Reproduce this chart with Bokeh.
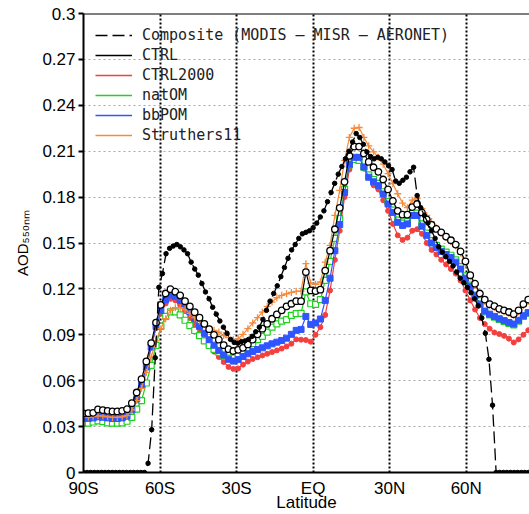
import numpy as np
from bokeh.plotting import figure
from bokeh.models import Range1d, FixedTicker, Legend, LegendItem, Span
from bokeh.embed import file_html
from bokeh.resources import INLINE

# latitude grids (model ~1.9 deg, composite ~1.4 deg)
lat_model = np.linspace(-90, 90, 96)
lat_comp = np.linspace(-90, 90, 129)

ctrl = [0.0386, 0.0388, 0.0390, 0.0412, 0.0408, 0.0403, 0.0399, 0.0399, 0.0403, 0.0414,
        0.0453, 0.0523, 0.0610, 0.0726, 0.0846, 0.0980, 0.1095, 0.1170, 0.1198, 0.1182,
        0.1158, 0.1120, 0.1086, 0.1048, 0.1012, 0.0972, 0.0937, 0.0900, 0.0868, 0.0832,
        0.0806, 0.0794, 0.0802, 0.0815, 0.0837, 0.0868, 0.0903, 0.0940, 0.0972, 0.1005,
        0.1033, 0.1060, 0.1086, 0.1103, 0.1120, 0.1120, 0.1310, 0.1190, 0.1186, 0.1195,
        0.1320, 0.1450, 0.1590, 0.1730, 0.1900, 0.2070, 0.2130, 0.2130, 0.2085, 0.2030,
        0.1995, 0.1965, 0.1915, 0.1850, 0.1775, 0.1710, 0.1685, 0.1685, 0.1735, 0.1755,
        0.1700, 0.1655, 0.1618, 0.1592, 0.1570, 0.1542, 0.1518, 0.1490, 0.1445, 0.1380,
        0.1290, 0.1234, 0.1170, 0.1130, 0.1100, 0.1088, 0.1070, 0.1060, 0.1049, 0.1035,
        0.1060, 0.1100, 0.1130, 0.1150, 0.1160, 0.1160]

ctrl2000 = [0.0362, 0.0364, 0.0366, 0.0375, 0.0372, 0.0368, 0.0365, 0.0365, 0.0368, 0.0378,
            0.0415, 0.0485, 0.0575, 0.0690, 0.0815, 0.0945, 0.1040, 0.1105, 0.1135, 0.1125,
            0.1095, 0.1055, 0.1010, 0.0965, 0.0920, 0.0875, 0.0830, 0.0790, 0.0755, 0.0722,
            0.0690, 0.0677, 0.0680, 0.0705, 0.0725, 0.0742, 0.0753, 0.0765, 0.0776, 0.0787,
            0.0798, 0.0810, 0.0824, 0.0842, 0.0870, 0.0868, 0.0866, 0.0855, 0.0900, 0.0950,
            0.1030, 0.1190, 0.1390, 0.1580, 0.1800, 0.1980, 0.2050, 0.2040, 0.1986, 0.1930,
            0.1877, 0.1850, 0.1780, 0.1710, 0.1625, 0.1550, 0.1520, 0.1535, 0.1580, 0.1590,
            0.1560, 0.1500, 0.1455, 0.1425, 0.1390, 0.1360, 0.1330, 0.1300, 0.1255, 0.1190,
            0.1125, 0.1065, 0.1010, 0.0970, 0.0940, 0.0915, 0.0905, 0.0893, 0.0875, 0.0850,
            0.0870, 0.0900, 0.0930, 0.0950, 0.0960, 0.0960]

natom = [0.0323, 0.0323, 0.0330, 0.0338, 0.0333, 0.0325, 0.0323, 0.0323, 0.0325, 0.0335,
         0.0360, 0.0414, 0.0470, 0.0585, 0.0700, 0.0830, 0.0955, 0.1020, 0.1050, 0.1050,
         0.1030, 0.0995, 0.0960, 0.0928, 0.0895, 0.0860, 0.0830, 0.0805, 0.0785, 0.0765,
         0.0748, 0.0748, 0.0762, 0.0787, 0.0815, 0.0842, 0.0868, 0.0890, 0.0918, 0.0950,
         0.0972, 0.0990, 0.0999, 0.1027, 0.1038, 0.1040, 0.1180, 0.1103, 0.1099, 0.1130,
         0.1256, 0.1380, 0.1530, 0.1660, 0.1850, 0.2010, 0.2045, 0.2040, 0.1995, 0.1945,
         0.1915, 0.1890, 0.1835, 0.1770, 0.1715, 0.1650, 0.1630, 0.1640, 0.1695, 0.1695,
         0.1625, 0.1565, 0.1515, 0.1485, 0.1460, 0.1440, 0.1420, 0.1390, 0.1345, 0.1285,
         0.1225, 0.1160, 0.1100, 0.1050, 0.1030, 0.1015, 0.1000, 0.0988, 0.0975, 0.0965,
         0.0990, 0.1020, 0.1040, 0.1055, 0.1065, 0.1065]

bbpom = [0.0353, 0.0354, 0.0357, 0.0364, 0.0361, 0.0357, 0.0353, 0.0353, 0.0357, 0.0368,
         0.0410, 0.0480, 0.0570, 0.0690, 0.0820, 0.0955, 0.1060, 0.1130, 0.1160, 0.1152,
         0.1125, 0.1090, 0.1050, 0.1005, 0.0955, 0.0910, 0.0868, 0.0832, 0.0798, 0.0768,
         0.0740, 0.0728, 0.0738, 0.0758, 0.0776, 0.0791, 0.0804, 0.0815, 0.0828, 0.0841,
         0.0852, 0.0863, 0.0878, 0.0903, 0.0929, 0.0935, 0.1020, 0.0968, 0.0977, 0.1003,
         0.1125, 0.1270, 0.1450, 0.1620, 0.1830, 0.2015, 0.2060, 0.2060, 0.1997, 0.1930,
         0.1900, 0.1875, 0.1820, 0.1755, 0.1700, 0.1635, 0.1615, 0.1625, 0.1680, 0.1680,
         0.1610, 0.1550, 0.1500, 0.1470, 0.1445, 0.1425, 0.1405, 0.1375, 0.1330, 0.1270,
         0.1215, 0.1155, 0.1100, 0.1055, 0.1035, 0.1020, 0.1005, 0.0993, 0.0980, 0.0970,
         0.0995, 0.1025, 0.1045, 0.1060, 0.1070, 0.1070]

struthers11 = [0.0360, 0.0362, 0.0365, 0.0372, 0.0369, 0.0364, 0.0360, 0.0360, 0.0364, 0.0372,
               0.0410, 0.0470, 0.0550, 0.0655, 0.0755, 0.0860, 0.0940, 0.1005, 0.1060, 0.1077,
               0.1077, 0.1065, 0.1040, 0.1010, 0.0990, 0.0965, 0.0940, 0.0929, 0.0918, 0.0895,
               0.0881, 0.0868, 0.0874, 0.0903, 0.0940, 0.0977, 0.1012, 0.1048, 0.1086, 0.1114,
               0.1142, 0.1158, 0.1168, 0.1177, 0.1184, 0.1186, 0.1365, 0.1238, 0.1230, 0.1245,
               0.1375, 0.1485, 0.1680, 0.1844, 0.2040, 0.2190, 0.2250, 0.2255, 0.2190, 0.2135,
               0.2095, 0.2060, 0.2015, 0.1953, 0.1888, 0.1822, 0.1760, 0.1731, 0.1780, 0.1790,
               0.1725, 0.1680, 0.1640, 0.1600, 0.1565, 0.1535, 0.1510, 0.1480, 0.1435, 0.1370,
               0.1280, 0.1225, 0.1160, 0.1120, 0.1090, 0.1078, 0.1060, 0.1050, 0.1040, 0.1025,
               0.1050, 0.1090, 0.1120, 0.1140, 0.1150, 0.1150]

composite = [0.0, 0.0, 0.0, 0.0, 0.0, 0.0, 0.0, 0.0, 0.0, 0.0,
             0.0, 0.0, 0.0, 0.0, 0.0, 0.0, 0.0, 0.0, 0.006, 0.028,
             0.075, 0.121, 0.130, 0.143, 0.1465, 0.148, 0.149, 0.1475, 0.1455, 0.143,
             0.1375, 0.133, 0.129, 0.1235, 0.118, 0.1135, 0.108, 0.1035, 0.099, 0.095,
             0.091, 0.087, 0.085, 0.0845, 0.0855, 0.086, 0.087, 0.089, 0.092, 0.095,
             0.100, 0.106, 0.112, 0.117, 0.122, 0.128, 0.134, 0.140, 0.1455, 0.149,
             0.153, 0.156, 0.157, 0.158, 0.160, 0.163, 0.167, 0.171, 0.177, 0.183,
             0.189, 0.195, 0.200, 0.205, 0.210, 0.216, 0.2215, 0.219, 0.2145, 0.2095,
             0.2065, 0.205, 0.206, 0.205, 0.203, 0.2005, 0.198, 0.1905, 0.189, 0.191,
             0.193, 0.1965, 0.1995, 0.181, 0.173, 0.168, 0.163, 0.158, 0.153, 0.1475,
             0.144, 0.141, 0.138, 0.135, 0.131, 0.127, 0.124, 0.121, 0.1175, 0.1135,
             0.109, 0.101, 0.091, 0.074, 0.044, 0.0, 0.0, 0.0, 0.0, 0.0,
             0.0, 0.0, 0.0, 0.0, 0.0, 0.0, 0.0, 0.0, 0.0]

series_names = ["Composite (MODIS – MISR – AERONET)", "CTRL", "CTRL2000", "natOM", "bbPOM", "Struthers11"]
x_ticks = [-90, -60, -30, 0, 30, 60]
x_tick_labels = ["90S", "60S", "30S", "EQ", "30N", "60N"]
y_ticks = [0, 0.03, 0.06, 0.09, 0.12, 0.15, 0.18, 0.21, 0.24, 0.27, 0.3]
y_tick_labels = ["0", "0.03", "0.06", "0.09", "0.12", "0.15", "0.18", "0.21", "0.24", "0.27", "0.3"]

p = figure(width=529, height=514, output_backend="svg", toolbar_location=None,
           x_range=Range1d(-90, 84.8), y_range=Range1d(0, 0.3),
           min_border_left=83, min_border_right=0, min_border_top=13, min_border_bottom=42)
p.outline_line_color = None
p.background_fill_color = "white"

# axes
for ax in (p.xaxis, p.yaxis):
    ax.axis_line_width = 2
    ax.axis_line_color = "black"
    ax.minor_tick_line_color = None
    ax.major_label_text_font = "Liberation Sans"
    ax.major_label_text_font_size = "17px"
    ax.major_label_text_color = "black"
    ax.axis_label_text_font = "Liberation Sans"
    ax.axis_label_text_font_style = "normal"
    ax.axis_label_text_color = "black"
p.yaxis.ticker = FixedTicker(ticks=y_ticks)
p.yaxis.major_label_overrides = {t: l for t, l in zip(y_ticks, y_tick_labels)}
p.yaxis.major_tick_out = 5
p.yaxis.major_tick_in = 0
p.yaxis.major_tick_line_width = 2
p.yaxis.major_label_standoff = 3
p.yaxis.axis_label = "AOD₅₅₀ₙₘ"
p.yaxis.axis_label_text_font_size = "15px"
p.yaxis.axis_label_standoff = 8
p.xaxis.ticker = FixedTicker(ticks=x_ticks)
p.xaxis.major_label_overrides = {t: l for t, l in zip(x_ticks, x_tick_labels)}
p.xaxis.major_tick_line_color = None
p.xaxis.major_tick_out = 0
p.xaxis.major_label_standoff = 6
p.xaxis.axis_label = "Latitude"
p.xaxis.axis_label_text_font_size = "17px"
p.xaxis.axis_label_standoff = -8

# grids
p.ygrid.ticker = FixedTicker(ticks=y_ticks[1:-1])
p.ygrid.grid_line_color = "#a8a8a8"
p.ygrid.grid_line_dash = "2 3"
p.ygrid.grid_line_width = 1
p.xgrid.ticker = FixedTicker(ticks=x_ticks[1:])
p.xgrid.grid_line_color = "black"
p.xgrid.grid_line_dash = "2 2"
p.xgrid.grid_line_width = 2

p.add_layout(Span(location=0.3, dimension="width", line_color="black", line_width=2))

red = "#f2403f"
green = "#1fd21f"
blue = "#2f55ff"
orange = "#f58a3c"

# series (draw order: red, green, blue, orange, CTRL, composite)
p.line(lat_model, ctrl2000, line_color=red, line_width=1.2)
p.scatter(lat_model, ctrl2000, marker="circle", size=5, fill_color=red, line_color=red)
p.line(lat_model, natom, line_color=green, line_width=1.2)
p.scatter(lat_model, natom, marker="square", size=6, fill_color="white", line_color=green, line_width=1.2)
p.line(lat_model, bbpom, line_color=blue, line_width=1.2)
p.scatter(lat_model, bbpom, marker="square", size=6, fill_color=blue, line_color=blue)
p.line(lat_model, struthers11, line_color=orange, line_width=1.2)
p.scatter(lat_model, struthers11, marker="cross", size=7, line_color=orange, line_width=1.3)
p.line(lat_model, ctrl, line_color="black", line_width=1.2)
p.scatter(lat_model, ctrl, marker="circle", size=6.5, fill_color="white", line_color="black", line_width=1.3)
p.line(lat_comp, composite, line_color="black", line_width=1.3, line_dash="12 5")
p.scatter(lat_comp, composite, marker="circle", size=4.5, fill_color="black", line_color="black")

# legend-only line renderers (lines without markers, as in the key)
legend_styles = [("black", "12 5"), ("black", "solid"), (red, "solid"),
                 (green, "solid"), (blue, "solid"), (orange, "solid")]
items = []
for name, (col, dash) in zip(series_names, legend_styles):
    r = p.line([np.nan], [np.nan], line_color=col, line_width=1.6, line_dash=dash)
    items.append(LegendItem(label=name, renderers=[r]))

legend = Legend(items=items, location="top_left", margin=12, padding=0, spacing=0,
                glyph_width=37, glyph_height=20, label_height=20, label_standoff=10,
                label_text_font="DejaVu Sans Mono", label_text_font_size="15px",
                label_text_color="#222222", border_line_color=None, background_fill_alpha=0)
p.add_layout(legend)

open("out.html", "w").write(file_html(p, INLINE))
